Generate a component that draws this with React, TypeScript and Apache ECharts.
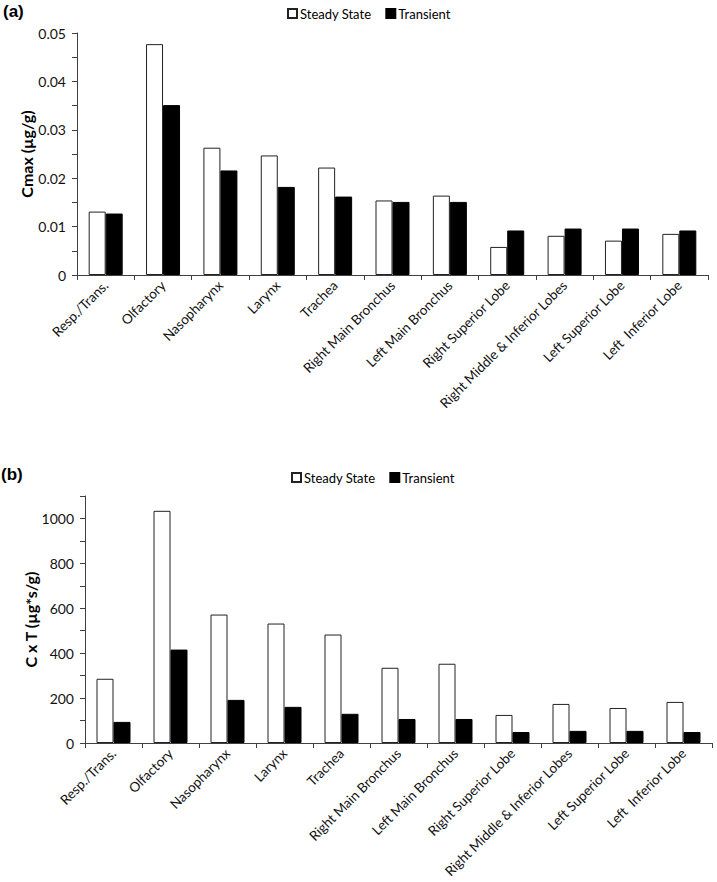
import { useEffect, useRef } from 'react';
import * as echarts from 'echarts';

const categories = [
  'Resp./Trans.',
  'Olfactory',
  'Nasopharynx',
  'Larynx',
  'Trachea',
  'Right Main Bronchus',
  'Left Main Bronchus',
  'Right Superior Lobe',
  'Right Middle & Inferior Lobes',
  'Left Superior Lobe',
  'Left  Inferior Lobe',
];
const seriesNames = ['Steady State', 'Transient'];
const cmaxSteady = [0.0131, 0.0477, 0.0263, 0.0247, 0.0222, 0.0154, 0.0164, 0.0058, 0.0081, 0.0071, 0.0085];
const cmaxTransient = [0.0127, 0.0351, 0.0216, 0.0182, 0.0162, 0.0151, 0.0151, 0.0092, 0.0096, 0.0096, 0.0092];
const cxtSteady = [286, 1034, 572, 532, 483, 335, 353, 125, 174, 156, 183];
const cxtTransient = [94, 416, 192, 161, 130, 107, 107, 49, 54, 54, 49];
const cmaxTickLabels = ['0', '0.01', '0.02', '0.03', '0.04', '0.05'];
const cxtTickLabels = ['0', '200', '400', '600', '800', '1000'];

const FONT = 'Lato, "Open Sans", sans-serif';
const AXIS_COLOR = '#404040';

export default function App() {
  const ref = useRef<HTMLDivElement>(null);
  useEffect(() => {
    if (!ref.current) return;
    const chart = echarts.init(ref.current, undefined, { renderer: 'svg' });

    const xAxisBase = (gridIndex: number) => ({
      type: 'category' as const,
      gridIndex,
      data: categories,
      boundaryGap: true,
      axisLine: { lineStyle: { color: AXIS_COLOR, width: 1 } },
      axisTick: { show: true, length: 5, lineStyle: { color: AXIS_COLOR } },
      axisLabel: {
        rotate: 45,
        interval: 0,
        fontFamily: FONT,
        fontSize: 13.5,
        color: '#111',
        margin: 8,
      },
    });

    const yAxisBase = (
      gridIndex: number,
      max: number,
      interval: number,
      labels: string[],
      name: string,
      nameGap: number
    ) => ({
      type: 'value' as const,
      gridIndex,
      min: 0,
      max,
      interval,
      name,
      nameLocation: 'middle' as const,
      nameGap,
      nameMoveOverlap: false,
      nameTextStyle: { fontFamily: FONT, fontSize: 16, fontWeight: 'bold' as const, color: '#000' },
      axisLine: { show: true, lineStyle: { color: AXIS_COLOR, width: 1 } },
      axisTick: { show: true, length: 5, lineStyle: { color: AXIS_COLOR } },
      minorTick: { show: true, splitNumber: 2, length: 5, lineStyle: { color: AXIS_COLOR } },
      splitLine: { show: false },
      axisLabel: {
        fontFamily: FONT,
        fontSize: 14,
        color: '#111',
        margin: 11,
        formatter: (v: number) => labels[Math.round(v / interval)] ?? '',
      },
    });

    const steadyStyle = { color: '#fff', borderColor: '#222', borderWidth: 1 };
    const transientStyle = { color: '#000', borderColor: '#000', borderWidth: 1 };

    const legendBase = (left: number, top: number) => ({
      left,
      top,
      orient: 'horizontal' as const,
      itemWidth: 9,
      itemHeight: 9,
      itemGap: 14,
      icon: 'rect',
      data: seriesNames,
      textStyle: { fontFamily: FONT, fontSize: 13, color: '#000', padding: [0, 0, 0, -2] },
      selectedMode: false,
    });

    chart.setOption({
      animation: false,
      backgroundColor: '#fff',
      legend: [legendBase(282, 2), legendBase(286, 466)],
      graphic: [
        {
          type: 'text',
          left: 3,
          top: 3,
          style: { text: '(a)', fontFamily: 'Liberation Sans, Arial, sans-serif', fontSize: 17, fontWeight: 'bold', fill: '#000' },
        },
        {
          type: 'text',
          left: 1,
          top: 466,
          style: { text: '(b)', fontFamily: 'Liberation Sans, Arial, sans-serif', fontSize: 17, fontWeight: 'bold', fill: '#000' },
        },
      ],
      grid: [
        { left: 77, right: 9, top: 33, height: 242 },
        { left: 85, right: 5, top: 496, height: 247 },
      ],
      xAxis: [xAxisBase(0), xAxisBase(1)],
      yAxis: [
        yAxisBase(0, 0.05, 0.01, cmaxTickLabels, 'Cmax (µg/g)', 43),
        yAxisBase(1, 1100, 200, cxtTickLabels, 'C x T (µg*s/g)', 47),
      ],
      series: [
        {
          name: seriesNames[0],
          type: 'bar',
          xAxisIndex: 0,
          yAxisIndex: 0,
          data: cmaxSteady,
          barWidth: 17,
          barGap: '0%',
          itemStyle: steadyStyle,
        },
        {
          name: seriesNames[1],
          type: 'bar',
          xAxisIndex: 0,
          yAxisIndex: 0,
          data: cmaxTransient,
          barWidth: 17,
          barGap: '0%',
          itemStyle: transientStyle,
        },
        {
          name: seriesNames[0],
          type: 'bar',
          xAxisIndex: 1,
          yAxisIndex: 1,
          data: cxtSteady,
          barWidth: 17,
          barGap: '0%',
          itemStyle: steadyStyle,
        },
        {
          name: seriesNames[1],
          type: 'bar',
          xAxisIndex: 1,
          yAxisIndex: 1,
          data: cxtTransient,
          barWidth: 17,
          barGap: '0%',
          itemStyle: transientStyle,
        },
      ],
    });
    return () => chart.dispose();
  }, []);

  return (
    <div
      ref={ref}
      style={{ position: 'fixed', left: 0, top: 0, width: 717, height: 882, background: '#fff' }}
    />
  );
}
